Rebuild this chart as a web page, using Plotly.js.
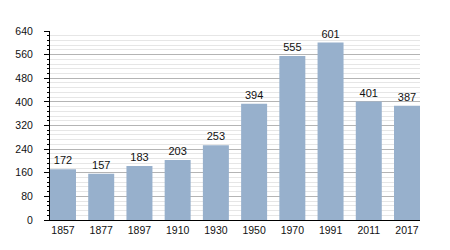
<!DOCTYPE html>
<html><head><meta charset="utf-8">
<script src="https://cdn.plot.ly/plotly-3.0.1.min.js"></script>
<style>html,body{margin:0;padding:0;background:#fff}#chart{width:450px;height:250px}</style>
</head><body><div id="chart"></div>
<script>
const years = ["1857","1877","1897","1910","1930","1950","1970","1991","2011","2017"];
const population = [172,157,183,203,253,394,555,601,401,387];
const yTicks = [0,80,160,240,320,400,480,560,640];

Plotly.newPlot('chart', [{
  type: 'bar',
  x: years,
  y: population,
  text: population.map(String),
  textposition: 'outside',
  cliponaxis: false,
  textfont: {family: 'Liberation Sans, Arial, sans-serif', size: 11, color: '#111'},
  marker: {color: '#97b0cc', line: {width: 0}},
  hoverinfo: 'skip'
}], {
  width: 450, height: 250,
  margin: {l: 50, r: 30, t: 31, b: 30, pad: 0},
  paper_bgcolor: '#fff', plot_bgcolor: '#fff',
  bargap: 0.32,
  showlegend: false,
  font: {family: 'Liberation Sans, Arial, sans-serif', size: 10, color: '#111'},
  xaxis: {
    type: 'category',
    range: [-0.34, 9.34],
    showline: true, linecolor: '#000', linewidth: 1,
    ticks: '', showgrid: false,
    tickfont: {size: 10.5}
  },
  yaxis: {
    range: [0, 640],
    tickvals: yTicks,
    ticktext: yTicks.map(String),
    showline: true, linecolor: '#000', linewidth: 1,
    ticks: 'outside', ticklen: 5, tickcolor: '#000',
    ticklabelstandoff: 9,
    showgrid: true, gridcolor: '#b4b4b4', gridwidth: 1,
    zeroline: false,
    tickfont: {size: 10.5},
    minor: {dtick: 16, tick0: 0, ticks: 'outside', ticklen: 2, tickcolor: '#000', showgrid: true, gridcolor: '#e6e6e6', gridwidth: 1}
  }
}, {displayModeBar: false, staticPlot: true});
</script></body></html>
